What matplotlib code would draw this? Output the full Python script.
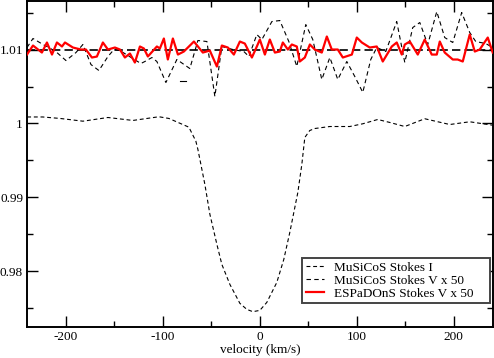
import numpy as np
import matplotlib.pyplot as plt
from matplotlib.patches import Rectangle
from matplotlib.ticker import MultipleLocator

# ----- Data -----
# MuSiCoS Stokes I profile
vel_i = [-240, -224, -206, -182.5, -156.7, -130.9, -104.1, -93.8, -73.2, -66.0,
         -63.9, -60.8, -56.7, -51.5, -44.3, -39.2, -30.9, -20.6, -13.4, -7.2,
         0.0, 7.2, 17.5, 24.7, 30.9, 39.2, 43.3, 46.4, 51.5, 56.7,
         72.2, 92.8, 106.2, 121.6, 134.0, 149.5, 170.1, 195.9, 216.5, 240.0]
stokes_i = [1.00088, 1.00088, 1.00068, 1.00031, 1.00081, 1.00041, 1.00091, 1.00068, 0.99950, 0.99761,
            0.99649, 0.99446, 0.99176, 0.98770, 0.98365, 0.98095, 0.97824, 0.97568, 0.97486, 0.97455,
            0.97473, 0.97581, 0.97851, 0.98162, 0.98527, 0.99068, 0.99446, 0.99811, 0.99905, 0.99932,
            0.99959, 0.99959, 0.99996, 1.00054, 1.00014, 0.99959, 1.00064, 0.99986, 1.00023, 0.99977]

# MuSiCoS Stokes V x 50 (shifted to 1.01)
vel_mv = [-240.2, -234.0, -223.7, -217.5, -209.3, -200.0, -189.7, -182.5, -174.2, -166.0,
          -156.7, -150.5, -144.3, -136.1, -122.7, -118.6, -111.3, -106.2, -96.9, -85.6,
          -72.2, -63.9, -54.6, -46.4, -39.2, -27.8, -16.5, -11.3, -3.1, 2.1,
          12.4, 20.6, 29.9, 38.1, 47.4, 54.6, 63.9, 72.2, 80.4, 89.7,
          97.9, 106.2, 114.4, 120.6, 129.9, 141.2, 149.5, 157.7, 165.0, 173.2,
          182.5, 190.7, 199.0, 208.2, 216.5, 222.7, 233.0, 240.2]
musicos_v = [1.01027, 1.01149, 1.01068, 1.01027, 1.00959, 1.00851, 1.00959, 1.01068, 1.00797, 1.00716,
             1.00905, 1.01000, 1.00986, 1.00919, 1.00811, 1.00838, 1.00892, 1.00838, 1.00554, 1.00865,
             1.00743, 1.01122, 1.01108, 1.00365, 1.01041, 1.01000, 1.00973, 1.00906, 1.01203, 1.01135,
             1.01378, 1.01392, 1.01108, 1.00771, 1.01338, 1.01135, 1.00595, 1.00892, 1.00595, 1.00838,
             1.00636, 1.00420, 1.00865, 1.01027, 1.00973, 1.01378, 1.00825, 1.01297, 1.01365, 1.01068,
             1.01513, 1.01162, 1.01095, 1.01500, 1.01230, 1.01108, 1.01081, 1.01027]
# stray piece of the MuSiCoS V curve
vel_mv_piece = [-82.5, -76.3]
musicos_v_piece = [1.00568, 1.00568]

# ESPaDOnS Stokes V x 50 (shifted to 1.01)
vel_ev = [-240.2, -234.0, -224.8, -219.6, -214.4, -209.3, -204.1, -201.0, -192.8, -184.5,
          -179.4, -173.2, -168.1, -161.9, -156.7, -149.5, -144.3, -139.2, -134.0, -128.9,
          -123.7, -119.6, -115.5, -106.2, -103.1, -99.0, -94.9, -89.7, -84.5, -78.4,
          -68.0, -58.8, -51.6, -44.3, -39.2, -33.0, -26.8, -20.6, -15.5, -8.2,
          -3.1, 0.0, 5.2, 10.3, 15.5, 20.6, 23.7, 28.9, 33.0, 38.1,
          41.2, 46.4, 51.6, 56.7, 63.9, 69.1, 74.2, 80.4, 85.6, 94.9,
          100.0, 105.2, 113.4, 120.6, 126.8, 136.1, 141.2, 146.4, 149.5, 154.7,
          162.9, 170.1, 177.3, 182.5, 185.6, 190.7, 199.0, 204.1, 209.3, 216.5,
          221.7, 226.8, 235.1, 240.2]
espadons_v = [1.00932, 1.01054, 1.00959, 1.01095, 1.00932, 1.01095, 1.01041, 1.01095, 1.01027, 1.01000,
              1.01000, 1.00892, 1.00905, 1.01095, 1.01000, 1.01027, 1.01000, 1.00892, 1.00946, 1.00824,
              1.01041, 1.01014, 1.00906, 1.01041, 1.01014, 1.01149, 1.00865, 1.01149, 1.00932, 1.00973,
              1.01108, 1.00959, 1.00986, 1.00770, 1.01054, 1.01027, 1.00932, 1.01108, 1.01081, 1.00892,
              1.01041, 1.01135, 1.00932, 1.01135, 1.00959, 1.00973, 1.01095, 1.01000, 1.01068, 1.01041,
              1.00838, 1.00892, 1.01068, 1.01000, 1.00959, 1.01176, 1.01000, 1.01000, 1.00892, 1.00932,
              1.01162, 1.01095, 1.01027, 1.01041, 1.00838, 1.01041, 1.01095, 1.00932, 1.01068, 1.01108,
              1.00932, 1.01135, 1.00932, 1.00932, 1.01108, 1.00959, 1.00865, 1.00865, 1.00838, 1.01203,
              1.00973, 1.01000, 1.01162, 1.00959]

zero_level = 1.01

# ----- Plot -----
plt.rcParams['font.family'] = ['Liberation Serif', 'DejaVu Serif']
plt.rcParams['axes.unicode_minus'] = False

fig = plt.figure(figsize=(4.94, 3.58), dpi=100)
ax = fig.add_axes([0.055, 0.087, 0.942, 0.911])

ax.axhline(zero_level, color='k', lw=1.2, dashes=(5, 2.5), zorder=2)
l1, = ax.plot(vel_i, stokes_i, color='k', lw=0.8, dashes=(3.5, 2.5),
              label='MuSiCoS Stokes I')
l2, = ax.plot(vel_mv, musicos_v, color='k', lw=0.8, dashes=(4, 3),
              label='MuSiCoS Stokes V x 50')
ax.plot(vel_mv_piece, musicos_v_piece, color='k', lw=0.8)
l3, = ax.plot(vel_ev, espadons_v, color='#ff0000', lw=1.6,
              label='ESPaDOnS Stokes V x 50', zorder=3)

ax.set_xlim(-240, 240)
ax.set_ylim(0.9725, 1.0166)
ax.xaxis.set_major_locator(MultipleLocator(100))
ax.xaxis.set_minor_locator(MultipleLocator(50))
ax.yaxis.set_major_locator(MultipleLocator(0.01))
ax.yaxis.set_minor_locator(MultipleLocator(0.005))
ax.set_yticks([0.98, 0.99, 1.0, 1.01])
ax.set_yticklabels(['0.98', '0.99', '1', '1.01'])
ax.tick_params(which='both', direction='in', top=True, right=True,
               labelsize=9.5, width=1, pad=3)
ax.tick_params(which='major', length=8)
ax.tick_params(which='minor', length=4)
for s in ax.spines.values():
    s.set_linewidth(1.4)

ax.set_xlabel('velocity (km/s)', fontsize=9.5, labelpad=1)

# legend box drawn separately (wider than the entries, grace style)
ax.add_patch(Rectangle((0.590, 0.074), 0.405, 0.138, transform=ax.transAxes,
                       facecolor='white', edgecolor='#444444', lw=1.4, zorder=4))
leg = ax.legend(handles=[l1, l2, l3], loc='upper left', fontsize=9.5,
                frameon=False, bbox_to_anchor=(0.590, 0.212), borderaxespad=0,
                handlelength=1.4, handletextpad=0.75, labelspacing=0.05,
                borderpad=0.3)
leg.set_zorder(5)

fig.savefig('out.png', dpi=100)
